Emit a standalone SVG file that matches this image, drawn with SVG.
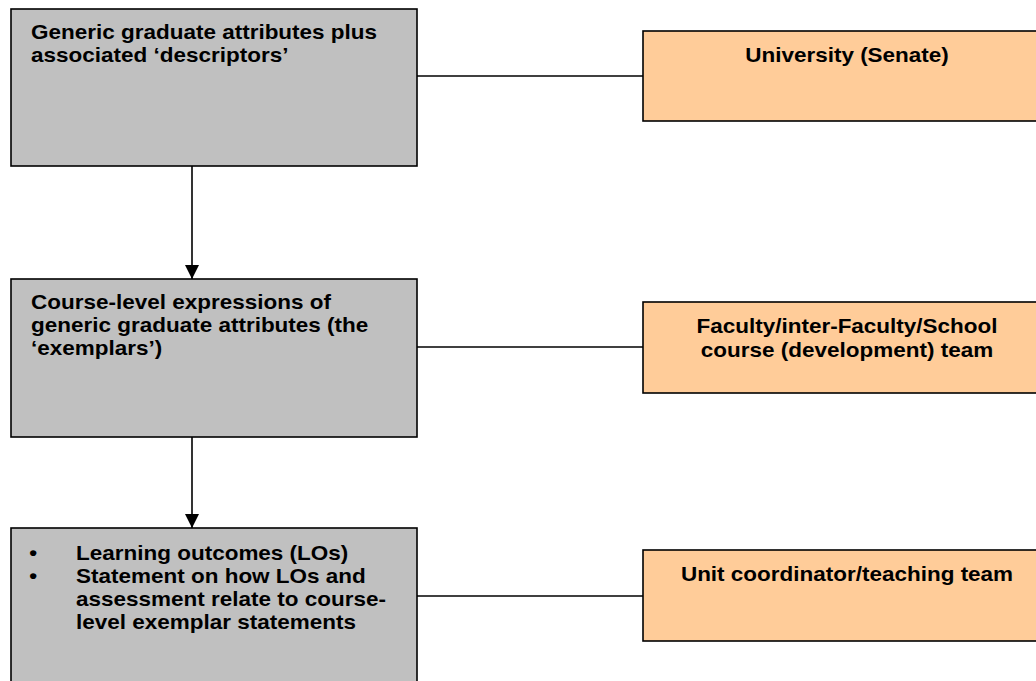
<svg xmlns="http://www.w3.org/2000/svg" width="1036" height="681" viewBox="0 0 1036 681">
<defs>
<style>
.g{fill:#C0C0C0;stroke:#000;stroke-width:1.6}
.o{fill:#FFCC99;stroke:#000;stroke-width:1.6}
.c{stroke:#000;stroke-width:1.6;fill:none}
text{font-family:"Liberation Sans",Arial,sans-serif;font-weight:bold;font-size:20px;fill:#000}
.m{text-anchor:middle}
</style>
<marker id="ah" markerWidth="14" markerHeight="14" viewBox="0 0 14 14" refX="14" refY="7" orient="auto" markerUnits="userSpaceOnUse">
<path d="M0,0 L14,7 L0,14 Z" fill="#000"/>
</marker>
</defs>
<rect width="1036" height="681" fill="#fff"/>
<g id="connectors">
<line class="c" x1="417" y1="76" x2="643" y2="76"/>
<line class="c" x1="417" y1="347" x2="643" y2="347"/>
<line class="c" x1="417" y1="596" x2="643" y2="596"/>
<line class="c" x1="192" y1="166" x2="192" y2="279" marker-end="url(#ah)"/>
<line class="c" x1="192" y1="437" x2="192" y2="528" marker-end="url(#ah)"/>
</g>
<g id="n1">
<rect class="g" x="11" y="9" width="406" height="157"/>
<g transform="scale(1.125 1)">
<text x="27.6" y="39">Generic graduate attributes plus</text>
<text x="27.6" y="62">associated ‘descriptors’</text>
</g>
</g>
<g id="n2">
<rect class="g" x="11" y="279" width="406" height="158"/>
<g transform="scale(1.125 1)">
<text x="27.6" y="309">Course-level expressions of</text>
<text x="27.6" y="332">generic graduate attributes (the</text>
<text x="27.6" y="355">‘exemplars’)</text>
</g>
</g>
<g id="n3">
<rect class="g" x="11" y="528" width="406" height="170"/>
<g transform="scale(1.125 1)">
<text x="26" y="560">•</text>
<text x="26" y="583">•</text>
<text x="67.6" y="560">Learning outcomes (LOs)</text>
<text x="67.6" y="583">Statement on how LOs and</text>
<text x="67.6" y="606">assessment relate to course-</text>
<text x="67.6" y="629">level exemplar statements</text>
</g>
</g>
<g id="r1">
<rect class="o" x="643" y="31" width="420" height="90"/>
<g transform="scale(1.125 1)">
<text class="m" x="752.9" y="62">University (Senate)</text>
</g>
</g>
<g id="r2">
<rect class="o" x="643" y="302" width="420" height="91"/>
<g transform="scale(1.125 1)">
<text class="m" x="752.9" y="333">Faculty/inter-Faculty/School</text>
<text class="m" x="752.9" y="357">course (development) team</text>
</g>
</g>
<g id="r3">
<rect class="o" x="643" y="550" width="420" height="91"/>
<g transform="scale(1.125 1)">
<text class="m" x="752.9" y="581">Unit coordinator/teaching team</text>
</g>
</g>
</svg>
